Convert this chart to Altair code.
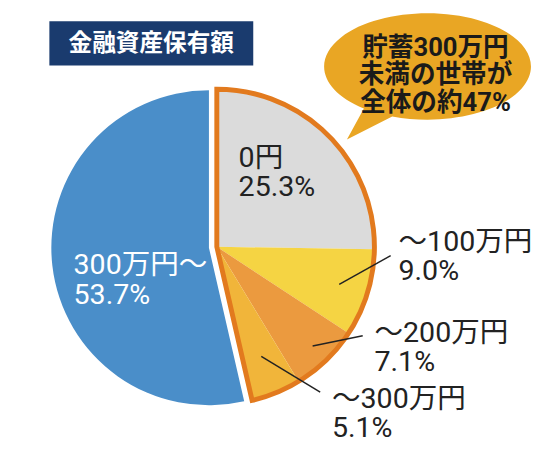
import altair as alt
import pandas as pd

# ---- data ----
categories = ["0円", "～100万円", "～200万円", "～300万円", "300万円～"]
shares = [25.3, 9.0, 7.1, 5.1, 53.7]
groups = ["under", "under", "under", "under", "over"]
slice_colors = ["#DBDBDB", "#F5D443", "#EB9A3F", "#F1B53A", "#4A8EC9"]
title_text = "金融資産保有額"
callout_lines = ["貯蓄300万円", "未満の世帯が", "全体の約47%"]

df = pd.DataFrame({"idx": list(range(len(categories))), "cat": categories,
                   "share": shares, "group": groups})
df["label"] = [f"{c}\n{v:.1f}%" for c, v in zip(categories, shares)]

# ---- layout ----
W, H = 532, 448
R = 160
C = (204, 240)   # centre of the main pie
E = (212, 239)   # centre of the exploded group
FONT = "Roboto, Noto Sans CJK JP"
INK = "#222222"

base = (alt.Chart(df)
        .transform_joinaggregate(total="sum(share)")
        .transform_window(cum="sum(share)", frame=[None, 0], sort=[alt.SortField("idx")])
        .transform_calculate(start="(datum.cum - datum.share) / datum.total * 2 * PI",
                             end="datum.cum / datum.total * 2 * PI")
        .transform_calculate(mid="(datum.start + datum.end) / 2"))

color = alt.Color("cat:N", scale=alt.Scale(domain=categories, range=slice_colors), legend=None)


def wedge(group, centre):
    return (base.transform_filter(alt.datum.group == group)
            .mark_arc(outerRadius=R, strokeWidth=0)
            .encode(theta=alt.Theta("start:Q", scale=None, stack=None),
                    theta2=alt.Theta2("end:Q"),
                    color=color,
                    x=alt.value(centre[0]), y=alt.value(centre[1])))


outline = (base.transform_filter(alt.datum.group == "under")
           .transform_aggregate(start="min(start)", end="max(end)")
           .mark_arc(outerRadius=R, filled=False, stroke="#E27A1E", strokeWidth=5,
                     strokeJoin="miter")
           .encode(theta=alt.Theta("start:Q", scale=None, stack=None),
                   theta2=alt.Theta2("end:Q"),
                   x=alt.value(E[0]), y=alt.value(E[1])))

label_layout = [
    dict(i=0, centre=E, r=90, dx=-42, dy=-18, color=INK, leader=None),
    dict(i=1, centre=E, r=170, dx=22, dy=-46, color=INK, leader=(130, -8, 5)),
    dict(i=2, centre=E, r=170, dx=42, dy=-26, color=INK, leader=(140, -12, -6)),
    dict(i=3, centre=E, r=170, dx=53, dy=6, color=INK, leader=(120, -12, -16)),
    dict(i=4, centre=C, r=90, dx=-48, dy=17, color="white", leader=None),
]

layers = [wedge("over", C), wedge("under", E), outline]
text_layers = []
for L in label_layout:
    cx, cy = L["centre"]
    lb = (base.transform_filter(alt.datum.idx == L["i"])
          .transform_calculate(lx=f"{cx} + {L['r']} * sin(datum.mid) + {L['dx']}",
                               ly=f"{cy} - {L['r']} * cos(datum.mid) + {L['dy']}"))
    text_layers.append(
        lb.mark_text(align="left", baseline="alphabetic", lineBreak="\n", lineHeight=30,
                     fontSize=29, font=FONT, color=L["color"])
        .encode(x=alt.X("lx:Q", scale=None, axis=None),
                y=alt.Y("ly:Q", scale=None, axis=None),
                text="label:N"))
    if L["leader"]:
        rin, ex, ey = L["leader"]
        layers.append(
            lb.transform_calculate(x1=f"{cx} + {rin} * sin(datum.mid)",
                                   y1=f"{cy} - {rin} * cos(datum.mid)",
                                   x2e=f"datum.lx + {ex}", y2e=f"datum.ly + {ey}")
            .mark_rule(color=INK, strokeWidth=1.5)
            .encode(x=alt.X("x1:Q", scale=None, axis=None),
                    y=alt.Y("y1:Q", scale=None, axis=None),
                    x2="x2e:Q", y2="y2e:Q"))

title_df = pd.DataFrame({"t": [title_text]})
title_box = alt.Chart(title_df).mark_rect(color="#1A3B6E").encode(
    x=alt.value(42), x2=alt.value(249), y=alt.value(10), y2=alt.value(55))
title_lbl = alt.Chart(title_df).mark_text(
    color="white", fontSize=24, font="Noto Sans CJK JP", fontWeight="bold",
    align="center", baseline="middle").encode(x=alt.value(145.5), y=alt.value(33), text="t:N")

bubble_path = ("M -0.342 0.483 L -0.78 0.705 L -0.616 0.405 "
               "A 1 0.514 0 1 1 -0.342 0.483 Z")
callout_df = pd.DataFrame({"t": ["\n".join(callout_lines)]})
bubble = alt.Chart(callout_df).mark_point(
    shape=bubble_path, size=210 * 210, filled=True, color="#E9A624", opacity=1,
    strokeWidth=0).encode(x=alt.value(426), y=alt.value(56))
bubble_txt = alt.Chart(callout_df).mark_text(
    lineBreak="\n", fontSize=26, lineHeight=28, fontWeight="bold", align="center",
    baseline="alphabetic", font=FONT, color="#1A1A1A").encode(
    x=alt.value(434), y=alt.value(45), text="t:N")

chart = (alt.layer(*layers, *text_layers, title_box, title_lbl, bubble, bubble_txt)
         .properties(width=W, height=H, padding=0, autosize=alt.AutoSizeParams(type="none"),
                     background="white")
         .configure_view(stroke=None))

chart.save("out.html", embed_options={"renderer": "svg", "actions": False})
